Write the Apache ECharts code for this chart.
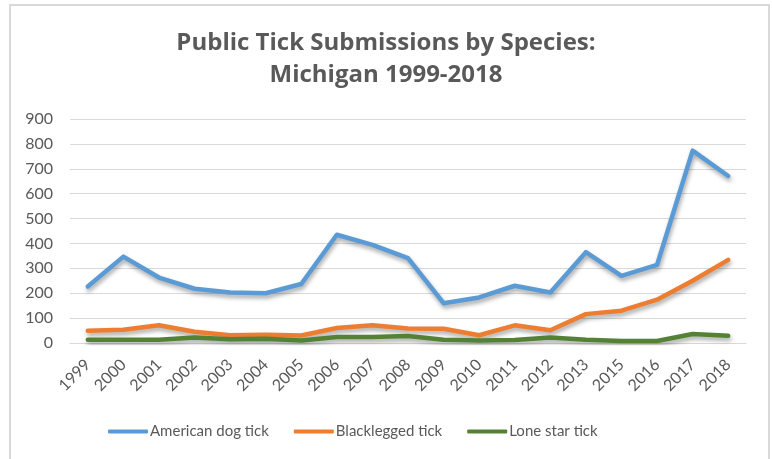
<!DOCTYPE html>
<html>
<head>
<meta charset="utf-8">
<script src="https://cdn.jsdelivr.net/npm/echarts@6/dist/echarts.min.js"></script>
<style>
html,body{margin:0;padding:0;background:#fff;}
#chart{width:772px;height:459px;}
</style>
</head>
<body>
<div id="chart"></div>
<script>
const years = ['1999','2000','2001','2002','2003','2004','2005','2006','2007','2008','2009','2010','2011','2012','2013','2015','2016','2017','2018'];
const americanDog = [227,347,263,218,203,200,237,435,394,341,160,183,230,203,365,270,314,773,671];
const blacklegged = [49,53,71,45,31,33,30,60,71,58,57,31,71,51,116,130,174,250,334];
const loneStar = [13,13,13,22,15,17,10,24,24,28,13,10,12,22,13,8,8,36,29];
const yTicks = [0,100,200,300,400,500,600,700,800,900];

const font = 'Lato, "Open Sans", sans-serif';
const txt = '#595959';
const chart = echarts.init(document.getElementById('chart'));
function mk(name, data, color) {
  return {
    name, type: 'line', data, symbol: 'none', smooth: false,
    lineStyle: { width: 4.5, color, cap: 'round', join: 'round',
      shadowColor: 'rgba(0,0,0,0.35)', shadowBlur: 4, shadowOffsetY: 3, shadowOffsetX: 1 },
    itemStyle: { color }
  };
}
chart.setOption({
  animation: false,
  title: {
    text: 'Public Tick Submissions by Species:\nMichigan 1999-2018',
    left: 'center', top: 22,
    textStyle: { fontFamily: '"Open Sans", sans-serif', fontWeight: 'bold', fontSize: 24, color: txt, lineHeight: 32 }
  },
  graphic: [{
    type: 'rect', shape: { x: 10, y: 5, width: 759, height: 470 },
    style: { fill: 'none', stroke: '#d9d9d9', lineWidth: 2 }, silent: true
  }],
  legend: {
    bottom: 15, left: 103, itemGap: 25, itemWidth: 40, itemHeight: 4,
    icon: 'roundRect',
    textStyle: { fontFamily: font, fontSize: 15, color: txt, padding: [0,0,0,-3] },
    data: ['American dog tick','Blacklegged tick','Lone star tick']
  },
  grid: { left: 70, right: 26, top: 119, bottom: 116 },
  xAxis: {
    type: 'category', data: years, boundaryGap: true,
    axisLine: { show: true, lineStyle: { color: '#d9d9d9', width: 1 } },
    axisTick: { show: false },
    axisLabel: { rotate: 45, interval: 0, fontFamily: font, fontSize: 16, color: txt, margin: 19 }
  },
  yAxis: {
    type: 'value', min: yTicks[0], max: yTicks[yTicks.length-1], interval: 100,
    axisLine: { show: false }, axisTick: { show: false },
    axisLabel: { fontFamily: font, fontSize: 16, color: txt, margin: 17 },
    splitLine: { lineStyle: { color: '#d9d9d9', width: 1 } }
  },
  series: [
    mk('American dog tick', americanDog, '#5B9BD5'),
    mk('Blacklegged tick', blacklegged, '#ED7D31'),
    mk('Lone star tick', loneStar, '#548235')
  ]
});
</script>
</body>
</html>
